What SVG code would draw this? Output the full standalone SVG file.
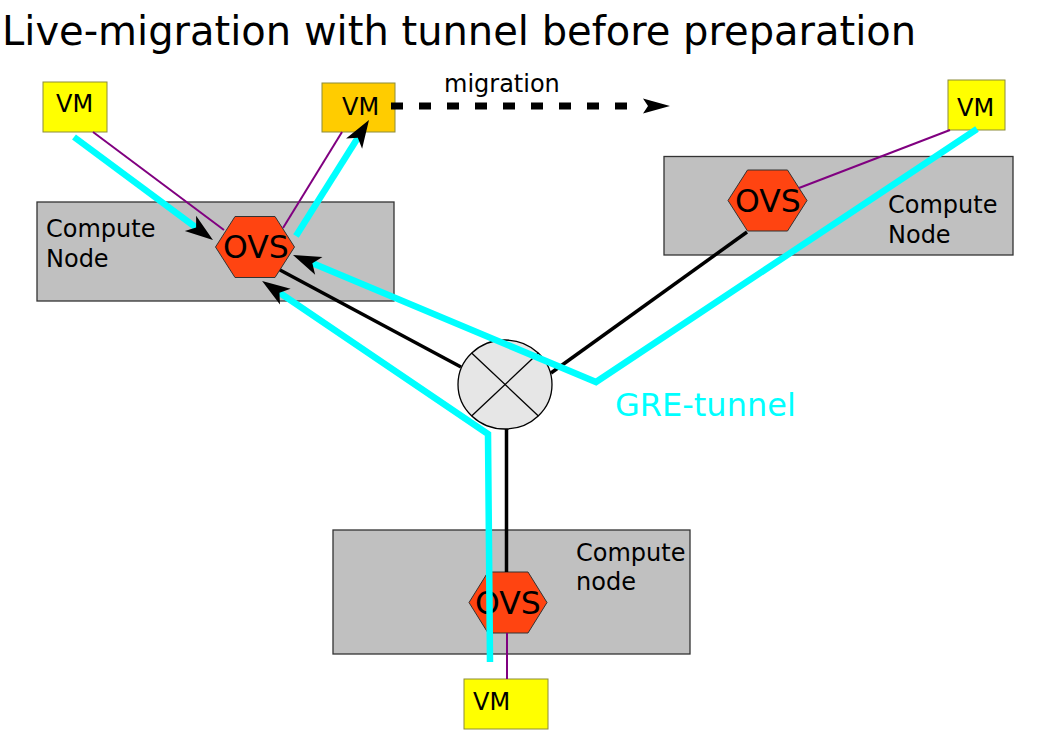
<svg xmlns="http://www.w3.org/2000/svg" width="1051" height="742" viewBox="0 0 1051 742">
<style>
text{font-family:"DejaVu Sans","Liberation Sans",sans-serif;fill:#000}
.title{font-size:40px}
.lbl{font-size:24px}
.ovs-t{font-size:31.5px}
.box{fill:#c0c0c0;stroke:#333;stroke-width:1.3}
.vm{fill:#ffff00;stroke:#8c8c3a;stroke-width:1}
.vm2{fill:#ffcc00;stroke:#8c8c3a;stroke-width:1}
.hex{fill:#ff4411;stroke:#333;stroke-width:1}
.eth{stroke:#800080;stroke-width:2;fill:none}
.wire{stroke:#000;stroke-width:3.5;fill:none}
.gre{stroke:#00ffff;stroke-width:6.5;fill:none;stroke-linejoin:miter;marker-end:url(#ah)}
.mig{stroke:#000;stroke-width:7;stroke-dasharray:12 16;fill:none;marker-end:url(#mh)}
</style>
<defs>
<marker id="ah" markerUnits="userSpaceOnUse" markerWidth="30" markerHeight="22" viewBox="0 -11 30 22" refX="10" refY="0" orient="auto" overflow="visible">
<path d="M0,-9.5 L28,0 L0,9.5 L7,0 z" fill="#000"/>
</marker>
<marker id="mh" markerUnits="userSpaceOnUse" markerWidth="28" markerHeight="16" viewBox="0 -8 28 16" refX="0" refY="0" orient="auto" overflow="visible">
<path d="M0,-7.5 L27,0 L0,7.5 L5,0 z" fill="#000"/>
</marker>
</defs>
<rect width="1051" height="742" fill="#fff"/>
<text class="title" x="2" y="45">Live-migration with tunnel before preparation</text>

<g id="compute-left">
<rect class="box" x="37" y="202" width="357" height="99"/>
<text class="lbl" x="46" y="237">Compute</text>
<text class="lbl" x="46" y="267">Node</text>
</g>
<g id="compute-right">
<rect class="box" x="664" y="156.5" width="349" height="98.5"/>
<text class="lbl" x="888" y="213">Compute</text>
<text class="lbl" x="888" y="243">Node</text>
</g>
<g id="compute-bottom">
<rect class="box" x="333" y="530" width="357" height="124"/>
<text class="lbl" x="576" y="561">Compute</text>
<text class="lbl" x="576" y="590">node</text>
</g>
<g id="ovs-left">
<polygon class="hex" points="215.5,247 235,216.5 275,216.5 294.5,247 275,277.5 235,277.5"/>
<text class="ovs-t" x="223" y="258">OVS</text>
</g>
<g id="ovs-right">
<polygon class="hex" points="728,200.5 747.5,170 787.5,170 807,200.5 787.5,231 747.5,231"/>
<text class="ovs-t" x="735" y="212">OVS</text>
</g>
<g id="ovs-bottom">
<polygon class="hex" points="469,602.5 488,572 528,572 547,602.5 528,633 488,633"/>
<text class="ovs-t" x="475" y="614">OVS</text>
</g>
<g id="router">
<ellipse cx="505" cy="384.5" rx="47" ry="44.5" fill="#e6e6e6" stroke="#000" stroke-width="1.3"/>
<line x1="471.6" y1="353" x2="538.4" y2="416" stroke="#000" stroke-width="1.3"/>
<line x1="538.4" y1="353" x2="471.6" y2="416" stroke="#000" stroke-width="1.3"/>
</g>
<g id="vm-1">
<rect class="vm" x="43" y="82" width="64" height="50"/>
<text class="lbl" x="56" y="112">VM</text>
</g>
<g id="vm-2">
<rect class="vm2" x="322" y="83" width="73" height="49"/>
<text class="lbl" x="342" y="115">VM</text>
</g>
<g id="vm-3">
<rect class="vm" x="948" y="80" width="57" height="50"/>
<text class="lbl" x="957" y="116">VM</text>
</g>
<g id="vm-4">
<rect class="vm" x="464" y="679" width="84" height="50"/>
<text class="lbl" x="473" y="710">VM</text>
</g>

<g id="connectors">
<line class="eth" x1="93" y1="132" x2="224" y2="230"/>
<line class="eth" x1="342" y1="132" x2="283" y2="228"/>
<line class="eth" x1="950" y1="130" x2="799" y2="188"/>
<line class="eth" x1="507" y1="633" x2="507" y2="679"/>
<line class="wire" x1="280" y1="270" x2="461" y2="367"/>
<line class="wire" x1="747" y1="232" x2="551" y2="373"/>
<line class="wire" x1="506.5" y1="429" x2="506.5" y2="572"/>
<line class="mig" x1="391" y1="106" x2="643" y2="106"/>
<text class="lbl" x="444" y="92">migration</text>
<line class="gre" x1="74" y1="137" x2="198.5" y2="229.3"/>
<line class="gre" x1="296" y1="236" x2="359.4" y2="135.2"/>
<polyline class="gre" points="977,129 596,382 309.6,262"/>
<polyline class="gre" points="490,662 488,434 277,291"/>
<text x="615" y="416" style="font-size:32px;fill:#00ffff">GRE-tunnel</text>
</g>
</svg>
